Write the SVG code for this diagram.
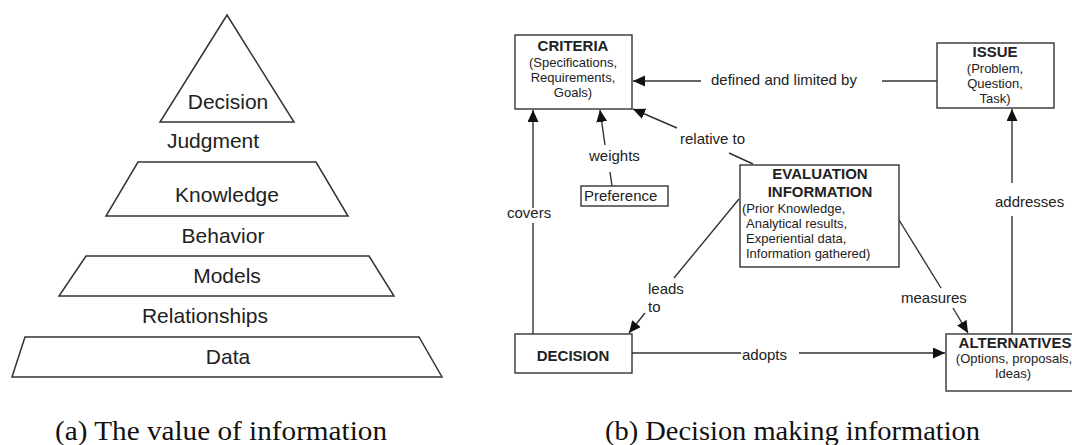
<svg xmlns="http://www.w3.org/2000/svg" width="1072" height="445" viewBox="0 0 1072 445">
<style>
.shape{fill:#fff;stroke:#333;stroke-width:1.5}
.box{fill:#fff;stroke:#333;stroke-width:1.4}
.lbl{font-family:"Liberation Sans",Arial,sans-serif;fill:#222}
.pyr{font-size:21px;text-anchor:middle}
.t{font-size:13px}
.b{font-size:15px;font-weight:bold}
.e{font-size:15px}
.c{text-anchor:middle}
.cap{font-family:"Liberation Serif","Times New Roman",serif;font-size:28px;fill:#111}
.ln{stroke:#333;stroke-width:1.4;fill:none}
</style>
<defs>
<marker id="ah" markerUnits="userSpaceOnUse" markerWidth="13" markerHeight="12" refX="12" refY="5.5" orient="auto">
<path d="M0,0 L12,5.5 L0,11 z" fill="#111"/>
</marker>
</defs>
<rect width="1072" height="445" fill="#fff"/>
<g id="pyramid">
<polygon class="shape" points="227,15 160,122 294,122"/>
<polygon class="shape" points="138,162 316,162 348,216 106,216"/>
<polygon class="shape" points="86,256 369,256 394,296 59,296"/>
<polygon class="shape" points="25,337 419,337 442,377 12,377"/>
<text class="lbl pyr" x="228" y="109">Decision</text>
<text class="lbl pyr" x="213" y="148">Judgment</text>
<text class="lbl pyr" x="227" y="202">Knowledge</text>
<text class="lbl pyr" x="223" y="243">Behavior</text>
<text class="lbl pyr" x="227" y="283">Models</text>
<text class="lbl pyr" x="205" y="323">Relationships</text>
<text class="lbl pyr" x="228" y="364">Data</text>
</g>
<g id="connectors">
<line class="ln" x1="937" y1="81" x2="882" y2="81"/>
<line class="ln" x1="701" y1="81" x2="633" y2="81" marker-end="url(#ah)"/>
<text class="lbl e" x="711" y="85">defined and limited by</text>
<line class="ln" x1="753" y1="164" x2="729" y2="153"/>
<line class="ln" x1="677" y1="128" x2="633" y2="109" marker-end="url(#ah)"/>
<text class="lbl e" x="680" y="144">relative to</text>
<line class="ln" x1="612" y1="186" x2="610" y2="172"/>
<line class="ln" x1="605" y1="145" x2="600" y2="110" marker-end="url(#ah)"/>
<text class="lbl e" x="589" y="161">weights</text>
<line class="ln" x1="533" y1="334" x2="533" y2="223"/>
<line class="ln" x1="533" y1="208" x2="533" y2="110" marker-end="url(#ah)"/>
<text class="lbl e" x="507" y="218">covers</text>
<line class="ln" x1="739" y1="199" x2="674" y2="278"/>
<line class="ln" x1="645" y1="313" x2="629" y2="333" marker-end="url(#ah)"/>
<text class="lbl e" x="648" y="294">leads</text>
<text class="lbl e" x="648" y="312">to</text>
<line class="ln" x1="899" y1="220" x2="941" y2="288"/>
<line class="ln" x1="953" y1="308" x2="968" y2="333" marker-end="url(#ah)"/>
<text class="lbl e" x="901" y="303">measures</text>
<line class="ln" x1="632" y1="353" x2="741" y2="353"/>
<line class="ln" x1="799" y1="353" x2="945" y2="353" marker-end="url(#ah)"/>
<text class="lbl e" x="742" y="360">adopts</text>
<line class="ln" x1="1012" y1="334" x2="1012" y2="216"/>
<line class="ln" x1="1012" y1="183" x2="1012" y2="109" marker-end="url(#ah)"/>
<text class="lbl e" x="995" y="207">addresses</text>
</g>
<g id="criteria">
<rect class="box" x="515" y="35" width="117" height="74"/>
<text class="lbl b c" x="573" y="51">CRITERIA</text>
<text class="lbl t c" x="573" y="67">(Specifications,</text>
<text class="lbl t c" x="573" y="82">Requirements,</text>
<text class="lbl t c" x="573" y="97">Goals)</text>
</g>
<g id="issue">
<rect class="box" x="937" y="43" width="117" height="65"/>
<text class="lbl b c" x="995" y="57">ISSUE</text>
<text class="lbl t c" x="995" y="73">(Problem,</text>
<text class="lbl t c" x="995" y="88">Question,</text>
<text class="lbl t c" x="995" y="103">Task)</text>
</g>
<g id="preference">
<rect class="box" x="581" y="186" width="87" height="20"/>
<text class="lbl e" x="584" y="201">Preference</text>
</g>
<g id="evaluation">
<rect class="box" x="740" y="165" width="159" height="102"/>
<text class="lbl b c" x="820" y="179">EVALUATION</text>
<text class="lbl b c" x="820" y="197">INFORMATION</text>
<text class="lbl t" x="742" y="213">(Prior Knowledge,</text>
<text class="lbl t" x="746" y="228">Analytical results,</text>
<text class="lbl t" x="746" y="243">Experiential data,</text>
<text class="lbl t" x="746" y="258">Information gathered)</text>
</g>
<g id="decision">
<rect class="box" x="515" y="334" width="117" height="39"/>
<text class="lbl b c" x="573" y="361">DECISION</text>
</g>
<g id="alternatives">
<rect class="box" x="946" y="334" width="134" height="57"/>
<text class="lbl b c" x="1015" y="348">ALTERNATIVES</text>
<text class="lbl t c" x="1014" y="363">(Options, proposals,</text>
<text class="lbl t c" x="1013" y="378">Ideas)</text>
</g>
<g id="captions">
<text class="cap" x="55" y="440" textLength="332" lengthAdjust="spacingAndGlyphs">(a) The value of information</text>
<text class="cap" x="605" y="440" textLength="375" lengthAdjust="spacingAndGlyphs">(b) Decision making information</text>
</g>
</svg>
